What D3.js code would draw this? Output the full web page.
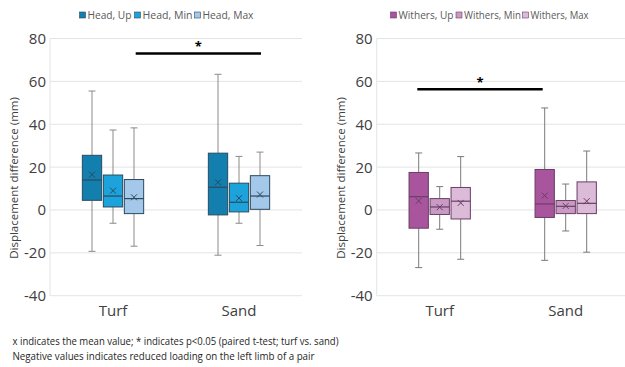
<!DOCTYPE html>
<html>
<head>
<meta charset="utf-8">
<script src="https://cdn.jsdelivr.net/npm/d3@7"></script>
<style>
  body { margin: 0; background: #fff; }
  svg { display: block; font-family: "Open Sans", sans-serif; }
</style>
</head>
<body>
<svg width="625" height="367"></svg>
<script>
// categories and tick labels
var categories = ["Turf", "Sand"];
var yTicks = [-40, -20, 0, 20, 40, 60, 80];

// head series, each row = [Turf, Sand]
var headSeries = ["Head, Up", "Head, Min", "Head, Max"];
var headLow    = [[-19.3, -21.1], [-6.2, -6.2], [-16.9, -16.6]];
var headQ1     = [[4.5, -2.3], [1.4, -0.9], [-1.7, 0.3]];
var headMedian = [[14, 10.6], [6.5, 3.6], [5.3, 6.5]];
var headQ3     = [[25.5, 26.5], [16.3, 12.5], [14.2, 16]];
var headHigh   = [[55.5, 63.3], [37.3, 25], [38.3, 27]];
var headMean   = [[16.5, 12.9], [9, 5.5], [5.9, 7.2]];

// withers series
var withersSeries = ["Withers, Up", "Withers, Min", "Withers, Max"];
var withersLow    = [[-26.9, -23.5], [-9, -9.8], [-23, -19.7]];
var withersQ1     = [[-8.5, -3.5], [-2.1, -1.7], [-4.2, -1.7]];
var withersMedian = [[6.2, 2.8], [1.4, 1.7], [4.1, 3.1]];
var withersQ3     = [[17.5, 18.9], [5.3, 4.4], [10.5, 13.1]];
var withersHigh   = [[26.6, 47.6], [10.9, 12.1], [24.9, 27.5]];
var withersMean   = [[4.2, 6.7], [1.3, 1.9], [3.3, 4.1]];

// significance bars (y value)
var headSig = 73;
var withersSig = 56.3;

var svg = d3.select('svg');

var y = d3.scaleLinear().domain([-40, 80]).range([295.7, 38.5]);

function panel(opt) {
  var g = svg.append('g');
  var x = d3.scaleBand().domain(categories).range([opt.left, opt.left + 252]);
  var inner = d3.scaleBand().domain(opt.series).range([0, x.bandwidth()])
    .paddingInner(0.08).paddingOuter(1.54);

  // grid lines
  g.selectAll('.grid').data(yTicks).enter().append('line')
    .attr('x1', opt.left).attr('x2', opt.left + 252)
    .attr('y1', function(d) { return y(d); })
    .attr('y2', function(d) { return y(d); })
    .style('stroke', '#e4e4e4').style('stroke-width', 1);
  g.append('line')
    .attr('x1', opt.left).attr('x2', opt.left)
    .attr('y1', y(80)).attr('y2', y(-40))
    .style('stroke', '#e4e4e4');

  // y axis labels
  g.selectAll('.ylab').data(yTicks).enter().append('text')
    .attr('x', opt.left - 4)
    .attr('y', function(d) { return y(d) + 5.5; })
    .attr('text-anchor', 'end')
    .style('font-size', '15px').style('fill', '#404040')
    .text(function(d) { return d; });

  // y axis title
  g.append('text')
    .attr('transform', 'translate(' + (opt.left - 32) + ',' + 178 + ') rotate(-90)')
    .attr('text-anchor', 'middle')
    .style('font-size', '11.5px').style('fill', '#404040')
    .text('Displacement difference (mm)');

  // category labels
  g.selectAll('.xlab').data(categories).enter().append('text')
    .attr('x', function(d) { return x(d) + x.bandwidth() / 2; })
    .attr('y', 316)
    .attr('text-anchor', 'middle')
    .style('font-size', '15px').style('fill', '#404040')
    .text(function(d) { return d; });

  // boxes
  opt.series.forEach(function(s, si) {
    categories.forEach(function(c, ci) {
      var x0 = x(c) + inner(s);
      var w = inner.bandwidth();
      var cx = x0 + w / 2;
      // whiskers
      g.append('line').attr('x1', cx).attr('x2', cx)
        .attr('y1', y(opt.high[si][ci])).attr('y2', y(opt.q3[si][ci]))
        .style('stroke', opt.whisker);
      g.append('line').attr('x1', cx).attr('x2', cx)
        .attr('y1', y(opt.q1[si][ci])).attr('y2', y(opt.low[si][ci]))
        .style('stroke', opt.whisker);
      [opt.high[si][ci], opt.low[si][ci]].forEach(function(v) {
        g.append('line').attr('x1', cx - 3.5).attr('x2', cx + 3.5)
          .attr('y1', y(v)).attr('y2', y(v))
          .style('stroke', opt.whisker);
      });
      // box
      g.append('rect')
        .attr('x', x0).attr('width', w)
        .attr('y', y(opt.q3[si][ci]))
        .attr('height', y(opt.q1[si][ci]) - y(opt.q3[si][ci]))
        .style('fill', opt.colors[si])
        .style('stroke', opt.stroke).style('stroke-width', 1);
      // median
      g.append('line').attr('x1', x0).attr('x2', x0 + w)
        .attr('y1', y(opt.median[si][ci])).attr('y2', y(opt.median[si][ci]))
        .style('stroke', opt.stroke).style('stroke-width', 1.2);
      // mean x
      var my = y(opt.mean[si][ci]);
      g.append('path')
        .attr('d', 'M' + (cx - 3) + ',' + (my - 3) + 'L' + (cx + 3) + ',' + (my + 3) +
                   'M' + (cx + 3) + ',' + (my - 3) + 'L' + (cx - 3) + ',' + (my + 3))
        .style('stroke', opt.stroke).style('stroke-width', 1);
    });
  });

  // significance bar
  g.append('line')
    .attr('x1', opt.sigX[0]).attr('x2', opt.sigX[1])
    .attr('y1', y(opt.sig)).attr('y2', y(opt.sig))
    .style('stroke', '#000').style('stroke-width', 2.5);
  g.append('text')
    .attr('x', (opt.sigX[0] + opt.sigX[1]) / 2)
    .attr('y', y(opt.sig) - 2.5)
    .attr('text-anchor', 'middle')
    .style('font-size', '13px').style('font-weight', 'bold')
    .text('*');

  // legend
  var lx = opt.legendX;
  opt.series.forEach(function(s, si) {
    g.append('rect').attr('x', lx[si]).attr('y', 12)
      .attr('width', 6).attr('height', 6)
      .style('fill', opt.colors[si]).style('stroke', opt.stroke).style('stroke-width', 0.6);
    g.append('text').attr('x', lx[si] + 8).attr('y', 19)
      .attr('textLength', opt.legendW[si]).attr('lengthAdjust', 'spacingAndGlyphs')
      .style('font-size', '10px').style('fill', '#595959')
      .text(s);
  });
}

panel({
  left: 50,
  series: headSeries,
  low: headLow, q1: headQ1, median: headMedian, q3: headQ3, high: headHigh, mean: headMean,
  colors: ['#127fae', '#1ca3dc', '#a4c8ea'],
  stroke: '#2b4a5e',
  whisker: '#8a8a8a',
  sig: headSig,
  sigX: [135.7, 261],
  legendX: [79.5, 134.5, 194.5],
  legendW: [44, 50, 51]
});

panel({
  left: 376.7,
  series: withersSeries,
  low: withersLow, q1: withersQ1, median: withersMedian, q3: withersQ3, high: withersHigh, mean: withersMean,
  colors: ['#a8559e', '#c99bc4', '#dcbbd9'],
  stroke: '#6a3d66',
  whisker: '#7a7a7a',
  sig: withersSig,
  sigX: [417.3, 542.7],
  legendX: [390.5, 456, 522.5],
  legendW: [55, 57, 58]
});

// footnote
svg.append('text').attr('x', 12.5).attr('y', 345)
  .attr('textLength', 326).attr('lengthAdjust', 'spacingAndGlyphs')
  .style('font-size', '11.5px').style('fill', '#262626')
  .text('x indicates the mean value; * indicates p<0.05 (paired t-test; turf vs. sand)');
svg.append('text').attr('x', 12.5).attr('y', 359.5)
  .attr('textLength', 302).attr('lengthAdjust', 'spacingAndGlyphs')
  .style('font-size', '11.5px').style('fill', '#262626')
  .text('Negative values indicates reduced loading on the left limb of a pair');
</script>
</body>
</html>
